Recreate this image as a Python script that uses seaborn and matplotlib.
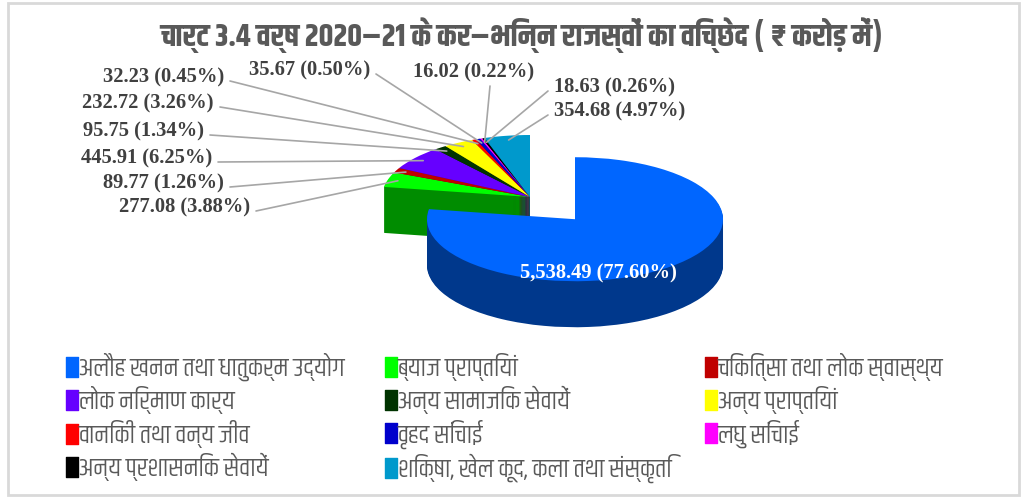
import numpy as np
import pandas as pd
import seaborn as sns
import matplotlib
matplotlib.use("Agg")
import matplotlib.pyplot as plt
from matplotlib.patches import Rectangle
from matplotlib.colors import to_rgb
from matplotlib.lines import Line2D
from matplotlib.path import Path

# ---------------- data ----------------
categories = [
    "अलौह खनन तथा धातुकर्म उद्योग",
    "ब्याज प्राप्तियां",
    "चिकित्सा तथा लोक स्वास्थ्य",
    "लोक निर्माण कार्य",
    "अन्य सामाजिक सेवायें",
    "अन्य प्राप्तियां",
    "वानिकी तथा वन्य जीव",
    "वृहद सिंचाई",
    "लघु सिंचाई",
    "अन्य प्रशासनिक सेवायें",
    "शिक्षा, खेल कूद, कला तथा संस्कृति",
]
values = [5538.49, 277.08, 89.77, 445.91, 95.75, 232.72, 32.23, 35.67, 16.02, 18.63, 354.68]
percents = [77.60, 3.88, 1.26, 6.25, 1.34, 3.26, 0.45, 0.50, 0.22, 0.26, 4.97]
colors = ["#0066FF", "#00FF00", "#C00000", "#6600FF", "#003300", "#FFFF00",
          "#FF0000", "#0000CC", "#FF00FF", "#000000", "#0099CC"]
title = "चार्ट 3.4 वर्ष 2020–21 के कर–भिन्न राजस्वों का विच्छेद ( ₹ करोड़ में)"

df = pd.DataFrame({"category": categories, "value": values, "pct": percents, "color": colors})

# ---------------- fonts ----------------
sns.set_theme(style="white")
DEV = "Khand"
plt.rcParams["font.family"] = [DEV, "DejaVu Sans"]

W, H = 1024, 497
fig = plt.figure(figsize=(W / 100, H / 100), dpi=100)
ax = fig.add_axes([0, 0, 1, 1])

# geometry in pixels
rx, ry = 148.0, 62.0
cx_px, cy_px = 530.0, 197.0
depth_px = 46.0

def darker(c, f=0.55):
    r, g, b = to_rgb(c)
    return (r * f, g * f, b * f)

explode = [0.47] + [0] * (len(values) - 1)
nlayers = 46
depth = depth_px / ry
side_cols = [darker(c) for c in df["color"]]
for i in range(nlayers, 0, -1):
    ax.pie(df["value"], colors=side_cols, startangle=90, counterclock=False,
           explode=explode, center=(0, -depth * i / nlayers), radius=1,
           wedgeprops=dict(linewidth=0), normalize=True)
wedges, _ = ax.pie(df["value"], colors=df["color"], startangle=90, counterclock=False,
                   explode=explode, center=(0, 0), radius=1,
                   wedgeprops=dict(linewidth=0), normalize=True)

ax.set_aspect("auto")
ax.set_xlim(-cx_px / rx, (W - cx_px) / rx)
ax.set_ylim(-(H - cy_px) / ry, cy_px / ry)
ax.axis("off")

def px2data(x, y):
    return ((x - cx_px) / rx, (cy_px - y) / ry)

label_pos = {
    1: (250, 207, "right"),
    2: (224, 183, "right"),
    3: (212, 158, "right"),
    4: (204, 131, "right"),
    5: (214, 103, "right"),
    6: (224, 77, "right"),
    7: (370, 70, "right"),
    8: (474, 72, "center"),
    9: (554, 87, "left"),
    10: (554, 111, "left"),
}
lab_font = dict(family=["Liberation Serif", "DejaVu Serif"], weight="bold", size=14.8)
for i, w in enumerate(wedges):
    v, p = df["value"][i], df["pct"][i]
    txt = f"{v:,.2f} ({p:.2f}%)"
    if i == 0:
        x, y = px2data(598, 273)
        ax.text(x, y, txt, color="white", ha="center", va="center", **lab_font)
        continue
    ang = np.deg2rad((w.theta1 + w.theta2) / 2)
    cx, cy = w.center
    xy = (cx + 0.93 * w.r * np.cos(ang), cy + 0.93 * w.r * np.sin(ang))
    tx, ty, ha = label_pos[i]
    if ha == "center":
        lx, ly = px2data(tx + 16, ty + 14)
    else:
        off = 6 if ha == "right" else -6
        lx, ly = px2data(tx + off, ty + 4)
    ax.annotate("", xy=xy, xytext=(lx, ly),
                arrowprops=dict(arrowstyle="-", color="#A6A6A6", lw=1.2, shrinkA=0, shrinkB=0))
    x, y = px2data(tx, ty)
    ax.text(x, y, txt, color="#404040", ha=ha, va="center", **lab_font)

fig.text(522 / W, 1 - 35 / H, title, ha="center", va="center", color="#595959",
         fontsize=22.6, fontweight="bold", family=[DEV, "DejaVu Sans"])

# legend marker: tall rectangle
rect = Path([(-0.28, -0.5), (0.28, -0.5), (0.28, 0.5), (-0.28, 0.5), (-0.28, -0.5)],
            [Path.MOVETO, Path.LINETO, Path.LINETO, Path.LINETO, Path.CLOSEPOLY])
col_x = [72, 391, 711]
row_y = [367, 400, 433, 466]
for c in range(3):
    idx = list(range(c, len(categories), 3))
    handles = [Line2D([], [], marker=rect, linestyle="none", markersize=15,
                      markerfacecolor=df["color"][k], markeredgecolor=df["color"][k])
               for k in idx]
    fig.legend(handles, [df["category"][k] for k in idx],
               loc="upper left", bbox_to_anchor=((col_x[c] - 6) / W, 1 - (row_y[0] - 14) / H),
               frameon=False, handlelength=0.45, handletextpad=0.05,
               labelspacing=0.2, fontsize=18.5, labelcolor="#595959",
               borderaxespad=0, borderpad=0)

fig.patches.append(Rectangle((8 / W, 2 / H), (1019 - 8) / W, (494 - 2) / H,
                             transform=fig.transFigure, fill=False,
                             edgecolor="#D9D9D9", linewidth=2))

fig.savefig("out.png", dpi=100)
